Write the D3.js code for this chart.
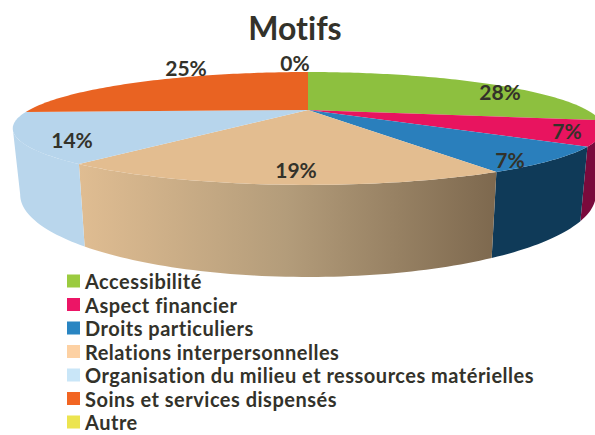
<!DOCTYPE html>
<html>
    <head>
        <meta charset="utf-8">
        <script src="https://cdn.jsdelivr.net/npm/d3@7"></script>
        <style>
            html, body { margin: 0; padding: 0; background: #fff; }
            text { font-family: Lato, "Open Sans", sans-serif; font-weight: 700; fill: #33322a; font-variant-ligatures: none; }
        </style>
    </head>
    <body>
        <svg id="fig" width="595" height="435"></svg>
        <script>
            const categories = ["Accessibilité", "Aspect financier", "Droits particuliers", "Relations interpersonnelles",
                                "Organisation du milieu et ressources matérielles", "Soins et services dispensés", "Autre"];
            // slice sizes as measured on the picture, the printed labels are rounded
            const shares = [28, 7, 7, 18.4, 14, 25.6, 0];
            const shareLabels = ["28%", "7%", "7%", "19%", "14%", "25%", "0%"];

            const legendColors = ["#9bcb3f", "#ec1566", "#2985c2", "#fdd1a3", "#c9e6f8", "#f26522", "#ece44f"];
            const topColors = ["#8dc03f", "#e8145f", "#2a7fbc", "#e3bd90", "#b7d5ec", "#e96322", "#e8e04a"];
            const wallColors = ["#5c7f28", "#7a0a3c", "#0f3a58", "url(#tanWall)", "#b9d6ec", "#a8481a", "#a8a335"];

            // where each percentage sits (centre of the text)
            const labelSpots = [[500, 91], [567, 130], [510, 159], [296, 169], [72, 139], [186, 67], [295, 62]];

            const svg = d3.select("#fig");
            const defs = svg.append("defs");

            const tanStops = [[0, "#e0bd92"], [0.5, "#b39c7a"], [1, "#7d684e"]];
            const tanGrad = defs.append("linearGradient")
                                .attr("id", "tanWall")
                                .attr("gradientUnits", "userSpaceOnUse")
                                .attr("x1", 78).attr("x2", 497)
                                .attr("y1", 0).attr("y2", 0);
            tanStops.forEach(s => tanGrad.append("stop").attr("offset", s[0]).attr("stop-color", s[1]));

            // the disc is seen in perspective: the apex is not at the middle of the ellipse
            const persp = 0.327;
            const cx = 308;
            const topDisc = { r: 279, k: 50.4, y0: 110 };
            const baseDisc = { r: 272, k: 73.6, y0: 167.6 };

            function project(disc, a) {
                const u = Math.sin(a), v = -Math.cos(a);
                const d = 1 - persp * v;
                return [cx + disc.r * u / d, disc.y0 + disc.k * v / d];
            }

            function edge(disc, a0, a1) {
                const n = Math.max(2, Math.ceil((a1 - a0) / 0.02));
                return d3.range(n + 1).map(i => project(disc, a0 + (a1 - a0) * i / n));
            }

            const arcs = d3.pie().sort(null).value(d => d)(shares);
            const line = d3.line();

            // walls first, they stop where the ellipse is at its widest
            const frontFrom = Math.PI / 2 + Math.asin(persp), frontTo = 3 * Math.PI / 2 - Math.asin(persp);
            svg.append("g").selectAll("path")
               .data(arcs.filter(d => d.endAngle > frontFrom && d.startAngle < frontTo && d.value > 0))
               .enter()
               .append("path")
               .attr("fill", d => wallColors[d.index])
               .attr("d", d => {
                   const a0 = Math.max(d.startAngle, frontFrom), a1 = Math.min(d.endAngle, frontTo);
                   return line(edge(topDisc, a0, a1).concat(edge(baseDisc, a0, a1).reverse())) + "Z";
               });

            // top of the pie
            svg.append("g").selectAll("path")
               .data(arcs.filter(d => d.value > 0))
               .enter()
               .append("path")
               .attr("fill", d => topColors[d.index])
               .attr("d", d => line([[cx, topDisc.y0]].concat(edge(topDisc, d.startAngle, d.endAngle))) + "Z");

            // percentages
            svg.append("g").selectAll("text")
               .data(shareLabels)
               .enter()
               .append("text")
               .attr("x", (d, i) => labelSpots[i][0])
               .attr("y", (d, i) => labelSpots[i][1])
               .attr("text-anchor", "middle")
               .attr("dominant-baseline", "central")
               .attr("font-size", 21)
               .text(d => d);

            svg.append("text")
               .attr("x", 295)
               .attr("y", 40)
               .attr("text-anchor", "middle")
               .attr("font-size", 32)
               .text("Motifs");

            // legend
            const legY = d3.scalePoint().domain(categories).range([281, 422]);

            const leg = svg.append("g").selectAll("g")
                           .data(categories)
                           .enter()
                           .append("g")
                           .attr("transform", d => `translate(67,${legY(d)})`);

            leg.append("rect")
               .attr("y", -6.5)
               .attr("width", 13)
               .attr("height", 13)
               .attr("fill", (d, i) => legendColors[i]);

            leg.append("text")
               .attr("x", 18)
               .attr("dominant-baseline", "central")
               .attr("font-size", 20)
               .attr("letter-spacing", 0.5)
               .text(d => d);
        </script>
    </body>
</html>
